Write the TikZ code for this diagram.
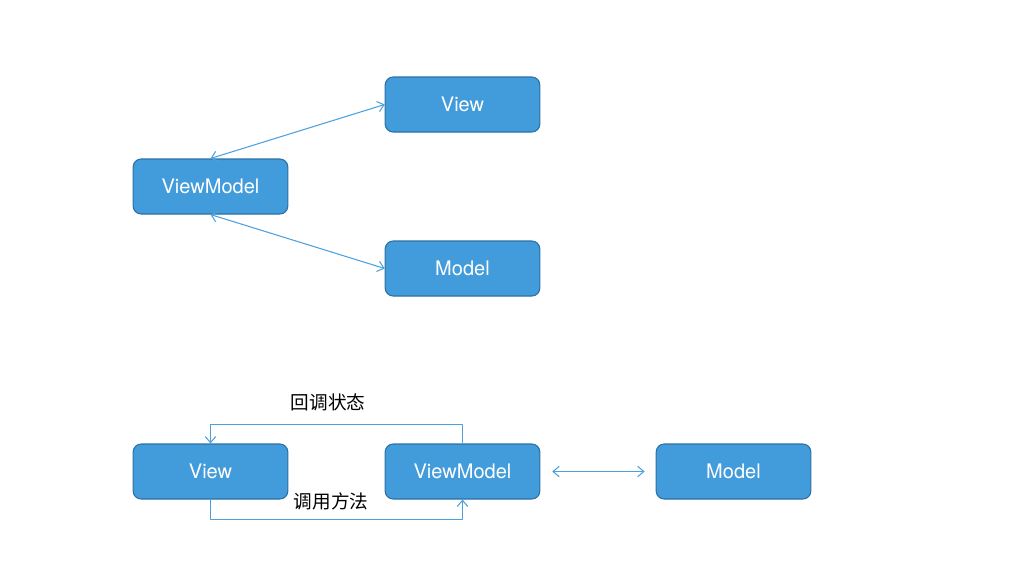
\documentclass[tikz,border=0pt]{standalone}
\usepackage{fontspec}
\setsansfont{TeX Gyre Heros}
\newfontfamily\cjk{Noto Sans CJK SC}
\usetikzlibrary{arrows.meta}
\definecolor{boxfill}{RGB}{66,155,218}
\definecolor{boxline}{RGB}{44,112,164}
\definecolor{linkblue}{RGB}{76,160,222}

\begin{document}
\begin{tikzpicture}[x=0.02cm, y=-0.02cm, line join=round,
    mvvmbox/.style={rectangle, rounded corners=4.5pt, fill=boxfill, draw=boxline,
        line width=0.6pt, minimum width=88pt, minimum height=31.3pt,
        text=white, font=\sffamily\fontsize{11.4}{13}\selectfont},
    link/.style={draw=linkblue, line width=0.6pt},
    tip/.style={>={Straight Barb[length=3.5pt, width=6pt]}},
    cnlabel/.style={font=\cjk\fontsize{10.6}{12}\selectfont}]

    \useasboundingbox (0,0) rectangle (1014,569);

    % Upper diagram: ViewModel in the middle, View and Model to the right
    \node[mvvmbox] (vmTop)    at (210.5,186.5) {ViewModel};
    \node[mvvmbox] (viewTop)  at (462.5,104.5) {View};
    \node[mvvmbox] (modelTop) at (462.5,268.5) {Model};

    \draw[link, tip, <->] (vmTop.north) -- (viewTop.west);
    \draw[link, tip, <->] (vmTop.south) -- (modelTop.west);

    % Lower diagram: View -- ViewModel -- Model in a row
    \node[mvvmbox] (viewBot)  at (210.5,471.5) {View};
    \node[mvvmbox] (vmBot)    at (462.5,471.5) {ViewModel};
    \node[mvvmbox] (modelBot) at (733.5,471.5) {Model};

    % Callback loop above, method call loop below
    \draw[link, tip, ->] (vmBot.north) -- ++(0,-19) -| (viewBot.north);
    \draw[link, tip, ->] (viewBot.south) -- ++(0,20) -| (vmBot.south);
    \node[cnlabel] (cbText)   at (328,402) {回调状态};
    \node[cnlabel] (callText) at (331,501) {调用方法};

    \draw[link, tip, <->, shorten <=6.8pt, shorten >=6.3pt] (vmBot.east) -- (modelBot.west);

\end{tikzpicture}
\end{document}
